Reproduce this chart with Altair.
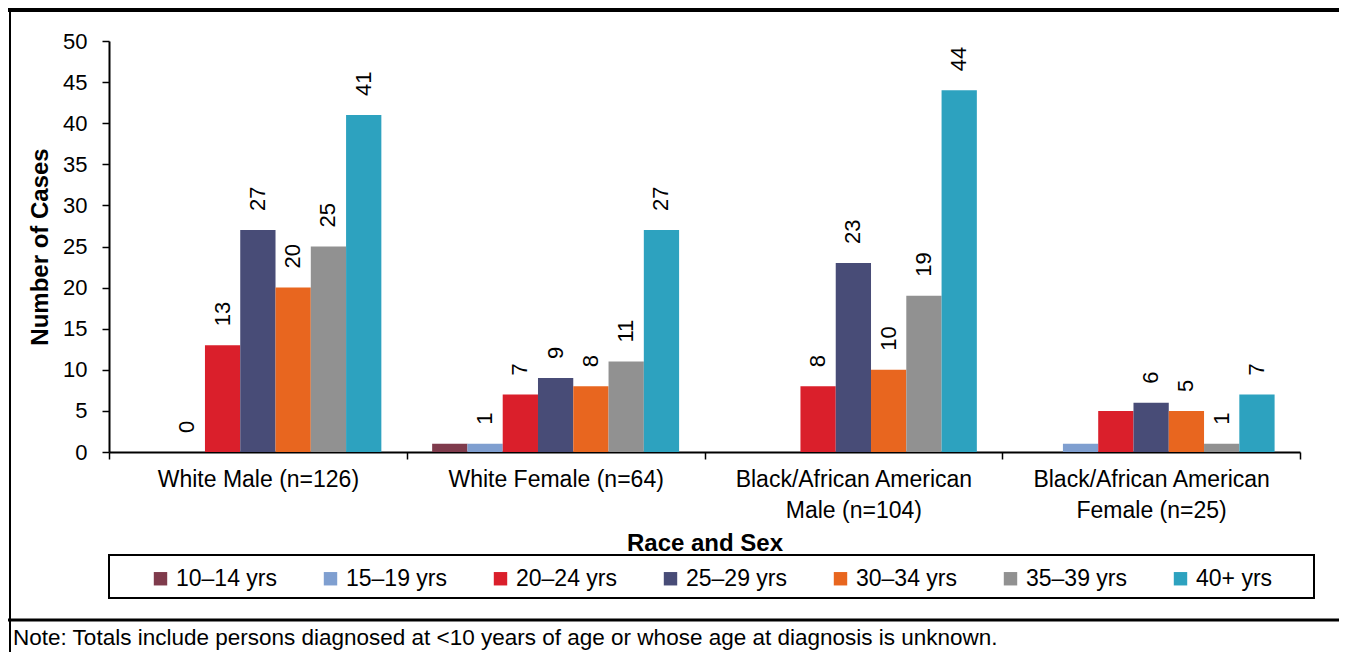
import altair as alt
import pandas as pd

groups = ["White Male (n=126)", "White Female (n=64)",
          "Black/African American\nMale (n=104)", "Black/African American\nFemale (n=25)"]
ages = ["10–14 yrs", "15–19 yrs", "20–24 yrs", "25–29 yrs", "30–34 yrs", "35–39 yrs", "40+ yrs"]
colors = ["#7F3B4C", "#7F9FD0", "#DA1F2B", "#484C77", "#E8661F", "#919191", "#2DA2BF"]

white_male = [0, 0, 13, 27, 20, 25, 41]
white_female = [1, 1, 7, 9, 8, 11, 27]
black_male = [0, 0, 8, 23, 10, 19, 44]
black_female = [0, 1, 5, 6, 5, 1, 7]

label_wm = [False, True, True, True, True, True, True]
label_wf = [False, True, True, True, True, True, True]
label_bm = [False, False, True, True, True, True, True]
label_bf = [False, False, False, True, True, True, True]

note = "Note: Totals include persons diagnosed at <10 years of age or whose age at diagnosis is unknown."

rows = []
for g, vals, labs in zip(groups, [white_male, white_female, black_male, black_female],
                         [label_wm, label_wf, label_bm, label_bf]):
    for a, v, s in zip(ages, vals, labs):
        rows.append({"group": g, "age": a, "cases": v, "show": s})
df = pd.DataFrame(rows)

FONT = "Liberation Sans"

x_enc = alt.X("group:N", sort=groups, scale=alt.Scale(paddingInner=0, paddingOuter=0),
              axis=alt.Axis(title="Race and Sex", labelExpr="split(datum.label, '\\n')",
                            labelAngle=0, labelFontSize=23, labelLineHeight=31,
                            labelPadding=9, labelLimit=0, tickBand="extent", tickSize=7,
                            titleFontSize=24, titleFontWeight="bold",
                            titleY=91, titleBaseline="middle"))
xo_enc = alt.XOffset("age:N", sort=ages, scale=alt.Scale(paddingInner=0, paddingOuter=0.72))

bars = alt.Chart(df).mark_bar().encode(
    x=x_enc,
    xOffset=xo_enc,
    y=alt.Y("cases:Q", scale=alt.Scale(domain=[0, 50]),
            axis=alt.Axis(title="Number of Cases", values=list(range(0, 51, 5)),
                          grid=False, tickSize=7, labelPadding=15, labelFontSize=22,
                          titleFontSize=24, titleFontWeight="bold",
                          titleX=-69, titleBaseline="middle")),
    color=alt.Color("age:N", sort=ages, scale=alt.Scale(domain=ages, range=colors),
                    legend=alt.Legend(title=None, orient="none", legendX=40, legendY=526,
                                      direction="horizontal", columns=7, gridAlign="all",
                                      symbolType="square", symbolSize=180, symbolStrokeWidth=0,
                                      labelFontSize=23, labelOffset=4, columnPadding=41,
                                      padding=0, labelLimit=0)),
)

labels = alt.Chart(df).transform_filter("datum.show").mark_text(
    angle=270, align="left", baseline="middle", dx=19, fontSize=22, font=FONT, color="black"
).encode(
    x=alt.X("group:N", sort=groups),
    xOffset=alt.XOffset("age:N", sort=ages),
    y=alt.Y("cases:Q"),
    text=alt.Text("cases:Q"),
)

one = alt.Data(values=[{"k": 1}])

legend_box = alt.Chart(one).mark_rect(fill=None, stroke="black", strokeWidth=2).encode(
    x=alt.value(0), x2=alt.value(1205), y=alt.value(514), y2=alt.value(557))

top_line = alt.Chart(one).mark_rule(color="black", strokeWidth=4).encode(
    x=alt.value(-101), x2=alt.value(1230), y=alt.value(-31))
left_line = alt.Chart(one).mark_rule(color="black", strokeWidth=2).encode(
    x=alt.value(-99), y=alt.value(-33), y2=alt.value(611))
sep_line = alt.Chart(one).mark_rule(color="black", strokeWidth=3).encode(
    x=alt.value(-101), x2=alt.value(1230), y=alt.value(579))
note_text = alt.Chart(one).mark_text(
    align="left", baseline="alphabetic", fontSize=22.5, font=FONT, color="black"
).encode(x=alt.value(-96), y=alt.value(604), text=alt.value(note))

chart = alt.layer(bars, labels, legend_box, top_line, left_line, sep_line, note_text).properties(
    width=1191, height=411,
    autosize=alt.AutoSizeParams(type="none"),
    padding={"left": 101, "top": 33, "right": 39, "bottom": 200},
).configure(font=FONT).configure_view(stroke=None).configure_axis(
    domainColor="black", domainWidth=2, tickColor="black", tickWidth=1.5,
    labelColor="black", titleColor="black", labelFont=FONT, titleFont=FONT
).configure_legend(labelColor="black", labelFont=FONT)

chart.save("out.html", embed_options={"renderer": "svg", "actions": False})
